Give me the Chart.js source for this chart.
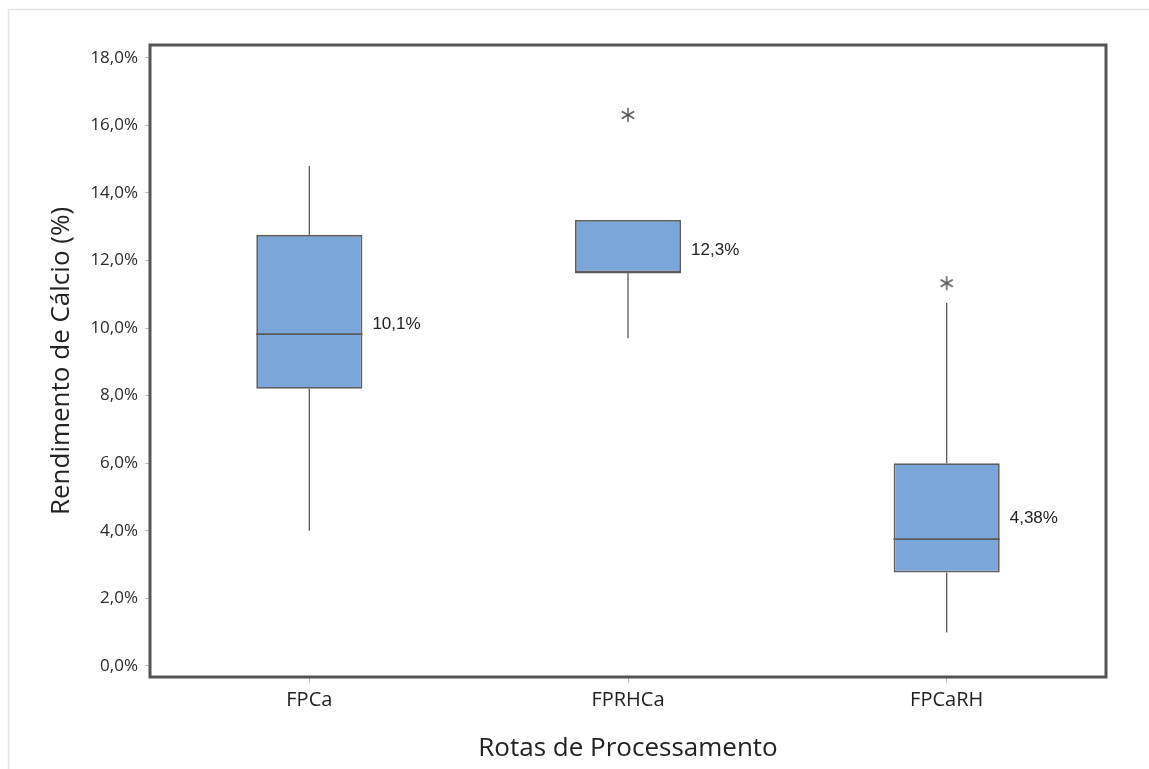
<!DOCTYPE html>
<html>
<head>
<meta charset="utf-8">
<script src="https://cdn.jsdelivr.net/npm/chart.js@4/dist/chart.umd.min.js"></script>
<style>
  html, body { margin: 0; padding: 0; background: #fff; }
  #wrap { width: 1149px; height: 769px; }
</style>
</head>
<body>
<div id="wrap"><canvas id="c" width="1149" height="769"></canvas></div>
<script>
// Processing routes and calcium-yield distribution summaries (%)
const categories   = ['FPCa', 'FPRHCa', 'FPCaRH'];
const whiskerLow   = [4.00, 9.70, 0.99];
const quartile1    = [8.20, 11.65, 2.76];
const medianValues = [9.82, 11.65, 3.75];
const quartile3    = [12.76, 13.20, 6.00];
const whiskerHigh  = [14.80, 13.20, 10.74];
const meanValues   = [10.1, 12.3, 4.38];
const meanLabels   = ['10,1%', '12,3%', '4,38%'];
const outliers     = [null, 16.31, 11.33];
const yTicks       = [0, 2, 4, 6, 8, 10, 12, 14, 16, 18];

const fmtPct = v => v.toFixed(1).replace('.', ',') + '%';

// six-spoke asterisk used for outlier markers
function makeAsterisk() {
  const c = document.createElement('canvas');
  c.width = 16; c.height = 16;
  const g = c.getContext('2d');
  g.strokeStyle = '#5a5a5a';
  g.lineWidth = 1.5;
  g.lineCap = 'round';
  const r = 6.5;
  for (let k = 0; k < 3; k++) {
    const a = Math.PI / 2 + k * Math.PI / 3;
    g.beginPath();
    g.moveTo(8 + r * Math.cos(a), 8 + r * Math.sin(a));
    g.lineTo(8 - r * Math.cos(a), 8 - r * Math.sin(a));
    g.stroke();
  }
  return c;
}

// whiskers, medians, mean labels, frame
const boxExtras = {
  id: 'boxExtras',
  beforeDraw(chart) {
    const ctx = chart.ctx;
    ctx.save();
    ctx.strokeStyle = '#e3e3e3';
    ctx.lineWidth = 1.5;
    ctx.beginPath();
    ctx.moveTo(8.5, chart.height);
    ctx.lineTo(8.5, 9.5);
    ctx.lineTo(chart.width, 9.5);
    ctx.stroke();
    ctx.restore();
  },
  afterDatasetsDraw(chart) {
    const ctx = chart.ctx;
    const xs = chart.scales.x, ys = chart.scales.y;
    const meta = chart.getDatasetMeta(0);
    ctx.save();
    meta.data.forEach((bar, i) => {
      const cx = xs.getPixelForValue(i);
      const half = bar.width / 2;
      ctx.strokeStyle = '#5a5a5a';
      ctx.lineWidth = 1.3;
      ctx.beginPath();
      ctx.moveTo(cx, ys.getPixelForValue(whiskerLow[i]));
      ctx.lineTo(cx, ys.getPixelForValue(quartile1[i]));
      ctx.moveTo(cx, ys.getPixelForValue(quartile3[i]));
      ctx.lineTo(cx, ys.getPixelForValue(whiskerHigh[i]));
      ctx.stroke();
      ctx.lineWidth = 1.8;
      ctx.beginPath();
      const my = ys.getPixelForValue(medianValues[i]);
      ctx.moveTo(cx - half, my);
      ctx.lineTo(cx + half, my);
      ctx.stroke();
      ctx.fillStyle = '#222';
      ctx.font = '17px "Liberation Sans", Arial, sans-serif';
      ctx.textAlign = 'left';
      ctx.textBaseline = 'middle';
      ctx.fillText(meanLabels[i], cx + half + 10, ys.getPixelForValue(meanValues[i]));
    });
    const a = chart.chartArea;
    ctx.strokeStyle = '#555';
    ctx.lineWidth = 3;
    ctx.strokeRect(a.left, a.top, a.right - a.left, a.bottom - a.top);
    ctx.restore();
  }
};

new Chart(document.getElementById('c'), {
  data: {
    labels: categories,
    datasets: [
      {
        type: 'bar',
        data: categories.map((_, i) => [quartile1[i], quartile3[i]]),
        backgroundColor: '#7ba6d9',
        borderColor: '#5f5f5f',
        borderWidth: 1.8,
        borderSkipped: false,
        categoryPercentage: 1,
        barPercentage: 0.333
      },
      {
        type: 'line',
        data: outliers,
        showLine: false,
        pointStyle: makeAsterisk(),
        pointRadius: 8,
        pointHoverRadius: 8
      }
    ]
  },
  options: {
    responsive: false,
    devicePixelRatio: 1,
    animation: false,
    events: [],
    layout: { padding: { top: 45, right: 43, left: 0, bottom: 0 } },
    plugins: { legend: { display: false }, tooltip: { enabled: false } },
    scales: {
      x: {
        type: 'category',
        offset: true,
        grid: { display: true, drawOnChartArea: false, drawTicks: true, tickLength: 6, color: '#bdbdbd', offset: false },
        border: { display: false },
        ticks: { color: '#222', font: { family: '"Liberation Sans Narrow", "Open Sans", sans-serif', size: 20 }, padding: 5 },
        title: { display: true, text: 'Rotas de Processamento', color: '#222', font: { family: '"Open Sans", sans-serif', size: 26 }, padding: { top: 0, bottom: 5 } },
        afterFit(s) { s.height = 769 - 677; }
      },
      y: {
        min: -0.33,
        max: 18.38,
        afterBuildTicks(s) { s.ticks = yTicks.map(v => ({ value: v })); },
        grid: { display: true, drawOnChartArea: false, drawTicks: true, tickLength: 5, color: '#bdbdbd' },
        border: { display: false },
        ticks: { color: '#2b2b2b', font: { family: '"Open Sans", sans-serif', size: 17 }, padding: 7, callback: v => fmtPct(v) },
        title: { display: true, text: 'Rendimento de Cálcio (%)', color: '#222', font: { family: '"Open Sans", sans-serif', size: 26 }, padding: { top: 46, bottom: 0 } },
        afterFit(s) { s.width = 150; }
      }
    }
  },
  plugins: [boxExtras]
});
</script>
</body>
</html>
